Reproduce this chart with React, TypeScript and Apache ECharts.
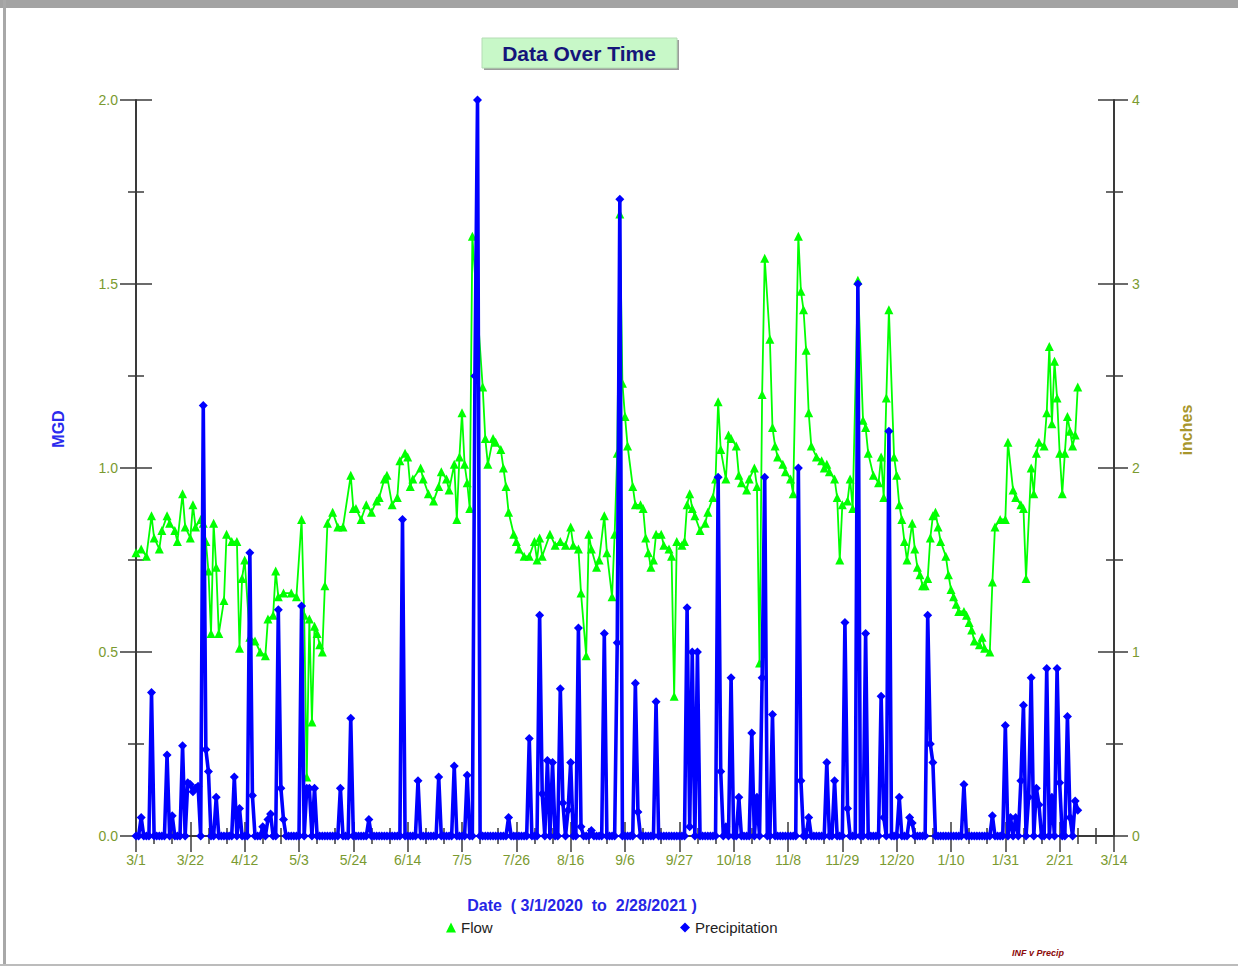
import React, { useEffect, useRef } from "react";
import * as echarts from "echarts";

// Flow (MGD) — day offset from 3/1/2020 and value
const flowDays = [
  0, 2, 4, 6, 7, 9, 10, 12, 13, 15, 16, 18, 19, 21, 22, 23, 25, 26, 27, 28, 29, 30, 31, 32, 34, 35, 37, 39, 40, 41, 42, 44, 46, 48, 50, 51, 53, 54, 55, 57, 60, 62, 64, 65, 66, 67, 68, 69, 70, 71, 72, 73, 74, 76, 78, 80, 83, 84, 85, 87, 89, 91, 93, 94, 96, 97, 99, 101, 102, 104, 105, 106, 107, 110, 111, 113, 115, 117, 118, 120, 121, 123, 124, 125, 126, 127, 128, 129, 130, 134, 135, 136, 138, 139, 141, 142, 143, 144, 146, 147, 148, 150, 152, 154, 155, 156, 157, 160, 162, 164, 166, 168, 169, 171, 172, 174, 175, 176, 178, 179, 181, 182, 184, 185, 186, 187, 188, 189, 190, 192, 193, 195, 196, 197, 198, 199, 200, 201, 203, 204, 206, 207, 208, 209, 211, 212, 213, 214, 215, 216, 218, 220, 221, 223, 224, 225, 226, 228, 229, 230, 232, 233, 234, 236, 237, 239, 240, 241, 242, 243, 245, 246, 247, 248, 250, 251, 253, 254, 256, 257, 258, 259, 260, 261, 263, 265, 266, 267, 268, 270, 271, 272, 273, 275, 276, 277, 279, 281, 282, 283, 285, 287, 288, 289, 290, 291, 293, 294, 295, 296, 297, 298, 300, 301, 302, 303, 304, 305, 306, 307, 308, 309, 310, 311, 313, 314, 315, 316, 317, 318, 320, 321, 322, 323, 324, 326, 327, 328, 330, 331, 332, 334, 336, 337, 339, 340, 342, 343, 344, 346, 347, 348, 349, 351, 352, 353, 354, 355, 356, 357, 358, 359, 360, 361, 362, 363, 364,
];
const flowValues = [
  0.77, 0.78, 0.76, 0.87, 0.81, 0.78, 0.83, 0.87, 0.85, 0.83, 0.8, 0.93, 0.84, 0.81, 0.9, 0.84, 0.86, 0.85, 0.8, 0.72, 0.55, 0.85, 0.73, 0.55, 0.64, 0.82, 0.8, 0.8, 0.51, 0.7, 0.75, 0.54, 0.53, 0.5, 0.49, 0.59, 0.6, 0.72, 0.65, 0.66, 0.66, 0.65, 0.86, 0.6, 0.16, 0.59, 0.31, 0.57, 0.55, 0.52, 0.5, 0.68, 0.85, 0.88, 0.84, 0.84, 0.98, 0.89, 0.89, 0.86, 0.9, 0.88, 0.91, 0.92, 0.97, 0.98, 0.9, 0.92, 1.02, 1.04, 1.03, 0.95, 0.97, 1.0, 0.97, 0.93, 0.91, 0.95, 0.99, 0.97, 0.94, 1.01, 0.86, 1.03, 1.15, 1.01, 0.96, 0.89, 1.63, 1.22, 1.08, 1.01, 1.08, 1.07, 1.05, 1.0, 0.95, 0.88, 0.82, 0.8, 0.78, 0.76, 0.76, 0.8, 0.75, 0.81, 0.76, 0.82, 0.79, 0.8, 0.79, 0.84, 0.79, 0.78, 0.66, 0.49, 0.82, 0.78, 0.73, 0.75, 0.87, 0.77, 0.65, 0.82, 1.04, 1.69, 1.23, 1.14, 1.06, 0.95, 0.9, 0.9, 0.89, 0.81, 0.77, 0.73, 0.75, 0.82, 0.82, 0.79, 0.78, 0.76, 0.38, 0.8, 0.79, 0.8, 0.9, 0.93, 0.89, 0.87, 0.83, 0.85, 0.88, 0.92, 0.97, 1.18, 1.05, 0.97, 1.09, 1.08, 1.06, 0.98, 0.96, 0.94, 0.97, 1.0, 0.95, 0.47, 1.2, 1.57, 1.35, 1.11, 1.06, 1.03, 1.01, 0.99, 0.97, 0.93, 1.63, 1.48, 1.43, 1.32, 1.15, 1.06, 1.03, 1.02, 1.0, 1.01, 0.99, 0.97, 0.92, 0.75, 0.9, 0.91, 0.97, 0.89, 1.51, 1.13, 1.11, 1.04, 0.98, 0.96, 1.03, 0.92, 1.19, 1.43, 1.03, 0.98, 0.9, 0.86, 0.8, 0.75, 0.85, 0.78, 0.73, 0.71, 0.68, 0.68, 0.7, 0.81, 0.87, 0.88, 0.84, 0.8, 0.76, 0.71, 0.67, 0.65, 0.63, 0.61, 0.61, 0.6, 0.58, 0.56, 0.53, 0.52, 0.54, 0.51, 0.5, 0.69, 0.84, 0.86, 0.86, 1.07, 0.94, 0.92, 0.9, 0.89, 0.7, 1.0, 0.93, 1.04, 1.07, 1.06, 1.15, 1.33, 1.12, 1.29, 1.19, 1.04, 0.93, 1.04, 1.14, 1.1, 1.06, 1.09, 1.22,
];

// Precipitation (inches) — days with rain; every other day is 0
const precipDays = [
  2, 6, 12, 14, 18, 20, 21, 22, 23, 24, 26, 27, 28, 31, 38, 40, 44, 45, 49, 51, 52, 55, 56, 57, 64, 66, 67, 69, 79, 83, 90, 103, 109, 117, 123, 128, 131, 132, 144, 152, 156, 157, 159, 161, 164, 165, 167, 168, 171, 172, 176, 181, 186, 187, 193, 194, 201, 213, 214, 215, 217, 225, 226, 228, 230, 233, 238, 240, 242, 243, 246, 256, 257, 260, 267, 270, 274, 275, 279, 282, 288, 289, 291, 295, 299, 300, 306, 307, 308, 320, 331, 336, 338, 340, 342, 343, 345, 346, 348, 349, 352, 354, 356, 357, 360, 361, 363, 364,
];
const precipInches = [
  0.1, 0.78, 0.44, 0.11, 0.49, 0.29, 0.28, 0.24, 0.26, 0.27, 2.34, 0.47, 0.35, 0.21, 0.32, 0.15, 1.54, 0.22, 0.05, 0.09, 0.12, 1.23, 0.26, 0.09, 1.25, 0.26, 0.26, 0.26, 0.26, 0.64, 0.09, 1.72, 0.3, 0.32, 0.38, 0.33, 2.5, 4.0, 0.1, 0.53, 1.2, 0.23, 0.41, 0.4, 0.8, 0.18, 0.14, 0.4, 1.13, 0.05, 0.03, 1.1, 1.05, 3.46, 0.83, 0.13, 0.73, 1.24, 0.05, 1.0, 1.0, 1.95, 0.35, 0.05, 0.86, 0.21, 0.56, 0.21, 0.86, 1.95, 0.66, 2.0, 0.3, 0.1, 0.4, 0.3, 1.16, 0.15, 3.0, 1.1, 0.76, 0.1, 2.2, 0.21, 0.1, 0.07, 1.2, 0.5, 0.4, 0.28, 0.11, 0.6, 0.1, 0.1, 0.3, 0.71, 0.21, 0.86, 0.26, 0.17, 0.91, 0.21, 0.91, 0.29, 0.65, 0.1, 0.19, 0.14,
];
const totalDays = 365; // 3/1/2020 .. 2/28/2021

const mgdTicks = [0, 0.5, 1.0, 1.5, 2.0];
const inchTicks = [0, 1, 2, 3, 4];
const dayTickInterval = 21;
const dayAxisMax = 378; // 3/14/2021

const FONT = '"Liberation Sans", Arial, sans-serif';
const LABEL_COLOR = "#7a9a30";
const AXIS_COLOR = "#3a3a3a";

function dayLabel(v: number): string {
  const d = new Date(2020, 2, 1 + Math.round(v));
  return `${d.getMonth() + 1}/${d.getDate()}`;
}

export default function App() {
  const ref = useRef<HTMLDivElement>(null);

  useEffect(() => {
    document.body.style.margin = "0";
    if (!ref.current) return;
    const chart = echarts.init(ref.current, undefined, { renderer: "svg" });

    const flowData = flowDays.map((d, i) => [d, flowValues[i]]);
    const precipMap = new Map<number, number>();
    precipDays.forEach((d, i) => precipMap.set(d, precipInches[i]));
    const precipData: number[][] = [];
    for (let d = 0; d < totalDays; d++) precipData.push([d, precipMap.get(d) ?? 0]);

    const lineStyle = { color: AXIS_COLOR, width: 2 };
    const tickStyle = { color: AXIS_COLOR, width: 1.5 };

    const xBase = {
      type: "value",
      min: 0,
      max: dayAxisMax,
      interval: dayTickInterval,
      splitLine: { show: false },
    };
    const yLeftBase = {
      type: "value",
      position: "left",
      min: mgdTicks[0],
      max: mgdTicks[mgdTicks.length - 1],
      interval: 0.5,
      splitLine: { show: false },
    };
    const yRightBase = {
      type: "value",
      position: "right",
      min: inchTicks[0],
      max: inchTicks[inchTicks.length - 1],
      interval: 1,
      splitLine: { show: false },
    };

    chart.setOption({
      animation: false,
      backgroundColor: "#ffffff",
      grid: { left: 136, top: 100, width: 978, height: 736, containLabel: false },
      xAxis: [
        {
          ...xBase,
          position: "bottom",
          axisLine: { show: true, onZero: false, lineStyle },
          axisTick: { show: true, length: 16, lineStyle: tickStyle },
          minorTick: { show: true, splitNumber: 3, length: 8, lineStyle: tickStyle },
          axisLabel: {
            show: true,
            formatter: dayLabel,
            color: LABEL_COLOR,
            fontFamily: FONT,
            fontSize: 14,
            margin: 17,
          },
        },
        {
          ...xBase,
          position: "bottom",
          axisLine: { show: false, onZero: false },
          axisTick: { show: true, inside: true, length: 14, lineStyle: tickStyle },
          minorTick: { show: true, splitNumber: 3, length: 8, lineStyle: tickStyle },
          axisLabel: { show: false },
        },
      ],
      yAxis: [
        {
          ...yLeftBase,
          axisLine: { show: true, onZero: false, lineStyle },
          axisTick: { show: true, length: 16, lineStyle: tickStyle },
          minorTick: { show: true, splitNumber: 2, length: 8, lineStyle: tickStyle },
          axisLabel: {
            show: true,
            formatter: (v: number) => v.toFixed(1),
            color: LABEL_COLOR,
            fontFamily: FONT,
            fontSize: 14,
            margin: 18,
          },
        },
        {
          ...yRightBase,
          axisLine: { show: true, onZero: false, lineStyle },
          axisTick: { show: true, length: 14, lineStyle: tickStyle },
          minorTick: { show: true, splitNumber: 2, length: 9, lineStyle: tickStyle },
          axisLabel: {
            show: true,
            formatter: (v: number) => String(v),
            color: LABEL_COLOR,
            fontFamily: FONT,
            fontSize: 14,
            margin: 18,
          },
        },
        {
          ...yLeftBase,
          axisLine: { show: false, onZero: false },
          axisTick: { show: true, inside: true, length: 16, lineStyle: tickStyle },
          minorTick: { show: true, splitNumber: 2, length: 8, lineStyle: tickStyle },
          axisLabel: { show: false },
        },
        {
          ...yRightBase,
          axisLine: { show: false, onZero: false },
          axisTick: { show: true, inside: true, length: 16, lineStyle: tickStyle },
          minorTick: { show: true, splitNumber: 2, length: 8, lineStyle: tickStyle },
          axisLabel: { show: false },
        },
      ],
      legend: [
        {
          data: [{ name: "Flow", icon: "triangle" }],
          left: 441,
          top: 915,
          itemWidth: 10,
          itemHeight: 10,
          itemGap: 5,
          selectedMode: false,
          textStyle: { color: "#222", fontFamily: FONT, fontSize: 15 },
        },
        {
          data: [{ name: "Precipitation", icon: "diamond" }],
          left: 675,
          top: 915,
          itemWidth: 10,
          itemHeight: 10,
          selectedMode: false,
          textStyle: { color: "#222", fontFamily: FONT, fontSize: 15 },
        },
      ],
      series: [
        {
          name: "Flow",
          type: "line",
          xAxisIndex: 0,
          yAxisIndex: 0,
          data: flowData,
          symbol: "triangle",
          symbolSize: 9,
          showAllSymbol: true,
          clip: false,
          itemStyle: { color: "#00ff00" },
          lineStyle: { color: "#00ff00", width: 1.8 },
          z: 2,
        },
        {
          name: "Precipitation",
          type: "line",
          xAxisIndex: 0,
          yAxisIndex: 1,
          data: precipData,
          symbol: "diamond",
          symbolSize: 9,
          showAllSymbol: true,
          clip: false,
          itemStyle: { color: "#0000ff" },
          lineStyle: { color: "#0000ff", width: 3.6 },
          z: 3,
        },
      ],
      graphic: [
        { type: "rect", shape: { x: 0, y: 0, width: 1238, height: 8 }, style: { fill: "#a3a3a3" }, silent: true },
        { type: "rect", shape: { x: 3, y: 0, width: 3, height: 966 }, style: { fill: "#a8a8a8" }, silent: true },
        { type: "rect", shape: { x: 0, y: 964, width: 1238, height: 2 }, style: { fill: "#bcbcbc" }, silent: true },
        { type: "rect", shape: { x: 484, y: 40, width: 195, height: 30 }, style: { fill: "#9c9c9c" }, silent: true },
        {
          type: "rect",
          shape: { x: 482, y: 38, width: 195, height: 30 },
          style: { fill: "#c8f8c8", stroke: "#b4dcb4", lineWidth: 1 },
          silent: true,
        },
        {
          type: "text",
          x: 579,
          y: 53,
          style: {
            text: "Data Over Time",
            font: `bold 21px ${FONT}`,
            fill: "#15157a",
            align: "center",
            verticalAlign: "middle",
          },
          silent: true,
        },
        {
          type: "text",
          x: 58,
          y: 429,
          rotation: Math.PI / 2,
          style: {
            text: "MGD",
            font: `bold 16px ${FONT}`,
            fill: "#2a2aee",
            align: "center",
            verticalAlign: "middle",
          },
          silent: true,
        },
        {
          type: "text",
          x: 1186,
          y: 430,
          rotation: Math.PI / 2,
          style: {
            text: "inches",
            font: `bold 16px ${FONT}`,
            fill: "#a8962c",
            align: "center",
            verticalAlign: "middle",
          },
          silent: true,
        },
        {
          type: "text",
          x: 582,
          y: 905,
          style: {
            text: "Date\u00a0\u00a0(\u00a03/1/2020\u00a0\u00a0to\u00a0\u00a02/28/2021\u00a0)",
            font: `bold 16px ${FONT}`,
            fill: "#2626e6",
            align: "center",
            verticalAlign: "middle",
          },
          silent: true,
        },
        {
          type: "text",
          x: 1038,
          y: 953,
          style: {
            text: "INF v Precip",
            font: `italic bold 9px ${FONT}`,
            fill: "#8b0a0a",
            align: "center",
            verticalAlign: "middle",
          },
          silent: true,
        },
      ],
    });

    return () => chart.dispose();
  }, []);

  return <div ref={ref} style={{ width: 1238, height: 967 }} />;
}
